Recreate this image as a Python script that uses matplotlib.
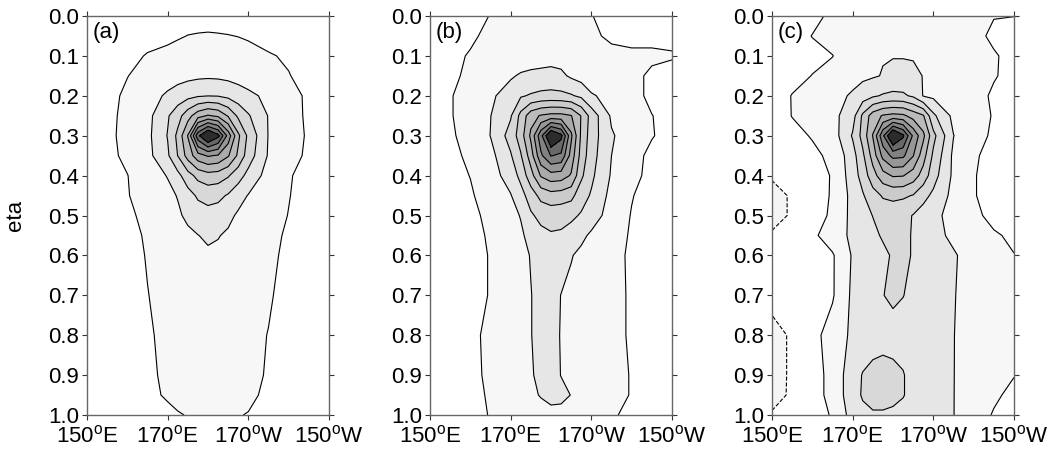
import numpy as np
import matplotlib
matplotlib.use('Agg')
from matplotlib import pyplot as plt

plt.rcParams['font.family'] = ['Liberation Sans', 'DejaVu Sans']
plt.rcParams['mathtext.fontset'] = 'custom'
plt.rcParams['mathtext.rm'] = 'Liberation Sans'

# --- grid (longitude in degrees east, eta levels)
lon = [150, 155, 160, 165, 170, 172.5, 175, 177.5, 180, 182.5, 185, 187.5, 190, 195, 200, 205, 210]
eta = [0.0, 0.05, 0.1, 0.15, 0.2, 0.25, 0.3, 0.35, 0.4, 0.45, 0.5, 0.55, 0.6, 0.7, 0.8, 0.9, 0.95, 1.0]

# --- field values, one row per eta level
field_a = [
    [0, 0, 0, 0, 0.3, 0.5, 0.6, 0.7, 0.75, 0.7, 0.6, 0.5, 0.4, 0.2, 0, 0, 0],
    [0, 0, 0.2, 0.5, 0.75, 0.9, 1.02, 1.05, 1.06, 1.05, 1.03, 0.98, 0.9, 0.6, 0.3, 0, 0],
    [0, 0.2, 0.6, 1.1, 1.3, 1.4, 1.5, 1.55, 1.6, 1.55, 1.5, 1.4, 1.3, 1.1, 0.85, 0.3, 0],
    [0.1, 0.5, 0.98, 1.3, 1.55, 1.65, 1.75, 1.82, 1.85, 1.82, 1.75, 1.65, 1.55, 1.35, 1.05, 0.6, 0.2],
    [0.2, 0.75, 1.15, 1.6, 2.15, 2.45, 2.7, 2.9, 2.98, 2.95, 2.75, 2.45, 2.2, 1.8, 1.3, 0.85, 0.3],
    [0.25, 0.8, 1.2, 1.7, 2.9, 3.6, 4.6, 5.6, 6.1, 5.8, 4.9, 3.8, 3.1, 1.95, 1.35, 0.85, 0.3],
    [0.3, 0.8, 1.25, 1.75, 3.05, 4.25, 6.05, 9.7, 11.5, 10.3, 7.6, 5.2, 3.77, 1.95, 1.35, 0.9, 0.35],
    [0.25, 0.75, 1.2, 1.7, 2.85, 4.02, 5.4, 6.6, 7.1, 6.9, 6.1, 4.8, 3.5, 1.9, 1.3, 0.85, 0.3],
    [0.2, 0.7, 0.98, 1.5, 2.05, 2.7, 3.6, 4.3, 4.6, 4.5, 4.1, 3.4, 2.7, 1.6, 1.05, 0.8, 0.25],
    [0.15, 0.6, 0.95, 1.4, 1.75, 2.05, 2.6, 3.15, 3.35, 3.25, 2.9, 2.4, 1.95, 1.5, 1.03, 0.7, 0.2],
    [0.1, 0.5, 0.85, 1.2, 1.5, 1.85, 2.2, 2.5, 2.65, 2.55, 2.25, 1.85, 1.55, 1.3, 0.98, 0.6, 0.15],
    [0.05, 0.4, 0.75, 1.1, 1.4, 1.6, 1.8, 1.98, 2.15, 2.05, 1.85, 1.6, 1.4, 1.2, 0.9, 0.5, 0.1],
    [0, 0.3, 0.7, 1.05, 1.3, 1.45, 1.6, 1.75, 1.85, 1.8, 1.7, 1.5, 1.35, 1.15, 0.85, 0.45, 0.05],
    [0, 0.2, 0.6, 0.98, 1.25, 1.35, 1.45, 1.55, 1.6, 1.55, 1.5, 1.4, 1.3, 1.08, 0.75, 0.35, 0],
    [0, 0.15, 0.5, 0.9, 1.2, 1.3, 1.4, 1.45, 1.5, 1.45, 1.4, 1.3, 1.2, 0.98, 0.7, 0.3, 0],
    [0, 0.1, 0.4, 0.85, 1.15, 1.25, 1.3, 1.35, 1.4, 1.35, 1.3, 1.25, 1.15, 0.95, 0.6, 0.2, 0],
    [0, 0.05, 0.35, 0.8, 1.1, 1.2, 1.25, 1.3, 1.3, 1.3, 1.25, 1.2, 1.1, 0.9, 0.5, 0.15, 0],
    [0, 0.05, 0.2, 0.5, 0.8, 0.95, 1.03, 1.05, 1.05, 1.05, 1.04, 1.02, 0.98, 0.7, 0.3, 0.05, 0],
]

field_b = [
    [0.3, 0.5, 0.8, 1.02, 1.1, 1.15, 1.2, 1.2, 1.2, 1.2, 1.15, 1.1, 1.02, 0.8, 0.7, 0.7, 0.75],
    [0.4, 0.7, 0.9, 1.15, 1.3, 1.35, 1.4, 1.45, 1.5, 1.45, 1.4, 1.3, 1.1, 0.9, 0.85, 0.85, 0.85],
    [0.5, 0.85, 1.05, 1.3, 1.45, 1.5, 1.55, 1.6, 1.65, 1.6, 1.5, 1.4, 1.3, 1.15, 1.1, 1.1, 1.05],
    [0.55, 0.8, 1.2, 1.5, 1.9, 2.1, 2.2, 2.25, 2.3, 2.2, 1.85, 1.6, 1.45, 1.3, 1.15, 0.9, 0.8],
    [0.6, 0.95, 1.3, 1.85, 2.4, 2.9, 3.1, 3.25, 3.3, 3.25, 3.1, 2.8, 2.1, 1.7, 1.3, 0.8, 0.7],
    [0.6, 0.95, 1.3, 1.98, 2.9, 4.3, 5.6, 6.1, 6.3, 6.3, 6.05, 4.95, 3.6, 1.85, 1.4, 1.02, 0.7],
    [0.6, 0.9, 1.25, 2.02, 3.4, 4.5, 6.2, 8.7, 11.3, 10.3, 7.2, 4.8, 3.5, 2.1, 1.5, 1.05, 0.7],
    [0.5, 0.8, 1.15, 1.7, 2.9, 3.9, 5.5, 7.8, 9.05, 8.8, 6.6, 4.6, 3.4, 2.0, 1.3, 0.8, 0.6],
    [0.45, 0.7, 1.02, 1.6, 2.4, 3.3, 4.6, 6.1, 6.6, 6.5, 5.9, 4.2, 3.2, 1.9, 1.3, 0.7, 0.5],
    [0.35, 0.6, 0.9, 1.4, 1.95, 2.6, 3.5, 4.3, 4.6, 4.5, 4.3, 3.4, 2.9, 1.7, 1.05, 0.6, 0.4],
    [0.3, 0.5, 0.8, 1.2, 1.7, 2.05, 2.85, 3.3, 3.4, 3.35, 3.2, 2.9, 2.45, 1.6, 0.95, 0.5, 0.3],
    [0.25, 0.45, 0.75, 1.1, 1.55, 1.85, 2.3, 2.7, 2.9, 2.85, 2.6, 2.2, 1.85, 1.4, 0.9, 0.45, 0.25],
    [0.2, 0.4, 0.7, 1.05, 1.45, 1.7, 2.05, 2.35, 2.5, 2.45, 2.05, 1.8, 1.6, 1.3, 0.85, 0.4, 0.2],
    [0.2, 0.4, 0.7, 1.05, 1.4, 1.65, 1.97, 2.3, 2.35, 1.98, 1.8, 1.65, 1.5, 1.25, 0.9, 0.4, 0.2],
    [0.15, 0.45, 0.85, 1.15, 1.45, 1.65, 1.97, 2.3, 2.3, 1.95, 1.75, 1.6, 1.5, 1.25, 0.9, 0.4, 0.2],
    [0.1, 0.4, 0.8, 1.15, 1.45, 1.65, 1.9, 2.25, 2.3, 1.98, 1.8, 1.6, 1.5, 1.3, 0.95, 0.4, 0.2],
    [0.1, 0.35, 0.75, 1.1, 1.4, 1.6, 1.85, 2.05, 2.25, 2.2, 1.98, 1.7, 1.5, 1.3, 0.95, 0.4, 0.2],
    [0.1, 0.3, 0.7, 1.05, 1.3, 1.45, 1.6, 1.7, 1.75, 1.75, 1.65, 1.5, 1.35, 1.1, 0.8, 0.35, 0.15],
]

field_c = [
    [0.3, 0.5, 0.8, 1.15, 1.2, 1.25, 1.3, 1.3, 1.3, 1.3, 1.25, 1.2, 1.2, 1.1, 1.05, 1.02, 1.01],
    [0.4, 0.7, 1.02, 1.3, 1.45, 1.5, 1.6, 1.6, 1.6, 1.6, 1.55, 1.5, 1.45, 1.3, 1.15, 0.9, 0.7],
    [0.3, 0.6, 0.8, 0.98, 1.5, 1.8, 1.9, 1.95, 1.95, 1.95, 1.95, 1.9, 1.8, 1.5, 1.25, 1.05, 0.85],
    [0.4, 0.75, 1.02, 1.3, 1.6, 1.8, 1.9, 2.05, 2.3, 2.3, 2.15, 1.98, 1.85, 1.6, 1.3, 1.05, 0.8],
    [0.6, 1.03, 1.3, 1.6, 2.15, 2.5, 2.85, 3.1, 3.2, 3.15, 2.85, 1.95, 1.8, 1.55, 1.25, 0.9, 0.7],
    [0.6, 1.02, 1.35, 1.7, 2.6, 4.2, 5.5, 6.1, 6.3, 6.2, 5.6, 5.1, 3.2, 1.75, 1.3, 0.95, 0.7],
    [0.55, 0.8, 1.05, 1.5, 3.1, 4.35, 6.05, 8.8, 11.5, 10.2, 7.8, 6.25, 4.3, 2.02, 1.35, 0.85, 0.6],
    [0.4, 0.6, 0.85, 1.15, 2.6, 3.8, 5.4, 7.3, 8.3, 8.2, 7.05, 5.4, 3.8, 1.8, 1.1, 0.75, 0.55],
    [-0.9, 0.2, 0.7, 1.05, 2.5, 3.4, 4.6, 5.6, 6.1, 6.05, 5.5, 4.6, 3.4, 1.8, 1.05, 0.7, 0.5],
    [-1.3, -0.9, 0.5, 1.1, 2.3, 2.9, 3.6, 4.1, 4.2, 4.15, 3.95, 3.3, 2.8, 1.7, 1.05, 0.7, 0.5],
    [-1.3, -0.9, 0.6, 1.15, 2.3, 2.7, 3.02, 3.4, 3.5, 3.3, 2.95, 2.6, 2.3, 1.6, 1.2, 0.75, 0.5],
    [-0.9, 0.1, 0.8, 1.5, 2.2, 2.5, 2.8, 3.1, 3.4, 3.3, 2.9, 2.6, 2.3, 1.8, 1.4, 1.1, 0.85],
    [0.1, 0.3, 0.6, 0.9, 2.1, 2.4, 2.6, 2.8, 3.1, 3.3, 2.9, 2.7, 2.5, 2.1, 1.6, 1.2, 1.02],
    [-0.6, 0.2, 0.5, 0.9, 2.2, 2.5, 2.75, 2.98, 3.15, 3.02, 2.8, 2.6, 2.4, 2.05, 1.6, 1.3, 1.15],
    [-1.4, -0.85, 0.7, 1.4, 2.2, 2.45, 2.6, 2.7, 2.7, 2.65, 2.55, 2.45, 2.3, 2.02, 1.6, 1.35, 1.2],
    [-1.4, -0.85, 0.6, 1.3, 2.6, 3.05, 3.25, 3.3, 3.2, 3.05, 2.7, 2.5, 2.3, 2.02, 1.5, 1.15, 1.02],
    [-1.35, -0.85, 0.6, 1.3, 2.6, 3.1, 3.3, 3.3, 3.2, 3.05, 2.7, 2.5, 2.3, 2.02, 1.4, 1.1, 0.85],
    [-0.9, -0.3, 0.5, 1.1, 2.4, 2.75, 2.9, 2.9, 2.85, 2.7, 2.55, 2.4, 2.3, 2.02, 1.3, 0.95, 0.7],
]

panel_labels = ['(a)', '(b)', '(c)']
fields = [field_a, field_b, field_c]

# --- contour levels and shading
line_levels = [-1, 1, 2, 3, 4, 5, 6, 7, 8, 9, 10]
fill_levels = [-50, -1, 1, 2, 3, 4, 5, 6, 7, 8, 9, 10, 50]
fill_colors = ['#f5f5f5', 'white', '#f7f7f7', '#e6e6e6', '#d8d8d8', '#cbcbcb',
               '#bbbbbb', '#aaaaaa', '#979797', '#828282', '#696969', '#2c2c2c']

xticks = [150, 170, 190, 210]
xticklabels = [r'150$^{\mathrm{o}}$E', r'170$^{\mathrm{o}}$E', r'170$^{\mathrm{o}}$W', r'150$^{\mathrm{o}}$W']
yticks = np.round(np.arange(0, 1.01, 0.1), 1)

fs = 16
fig = plt.figure(figsize=(10.54, 4.55), dpi=100)
lefts = [87, 430, 772]
width = 242
for i in range(3):
    ax = fig.add_axes([lefts[i] / 1054, 1 - 415 / 455, width / 1054, 399 / 455])
    Z = np.array(fields[i])
    ax.contourf(lon, eta, Z, levels=fill_levels, colors=fill_colors)
    ax.contour(lon, eta, Z, levels=line_levels, colors='k', linewidths=0.8)
    ax.set_xlim(150, 210)
    ax.set_ylim(1, 0)
    ax.set_xticks(xticks)
    ax.set_xticklabels(xticklabels)
    ax.set_yticks(yticks)
    ax.set_yticklabels(['%.1f' % v for v in yticks])
    ax.tick_params(axis='both', direction='out', length=3.5, width=0.8, labelsize=fs,
                   top=True, right=True, color='#333333')
    ax.tick_params(axis='x', pad=4)
    ax.tick_params(axis='y', pad=2)
    for s in ax.spines.values():
        s.set_color('#666666')
        s.set_linewidth(1.0)
    ax.text(0.025, 0.985, panel_labels[i], transform=ax.transAxes, fontsize=fs,
            ha='left', va='top')
    if i == 0:
        ax.set_ylabel('eta', fontsize=fs)
        ax.yaxis.set_label_coords(-0.25, 0.5)

fig.savefig('out.png', dpi=100)
